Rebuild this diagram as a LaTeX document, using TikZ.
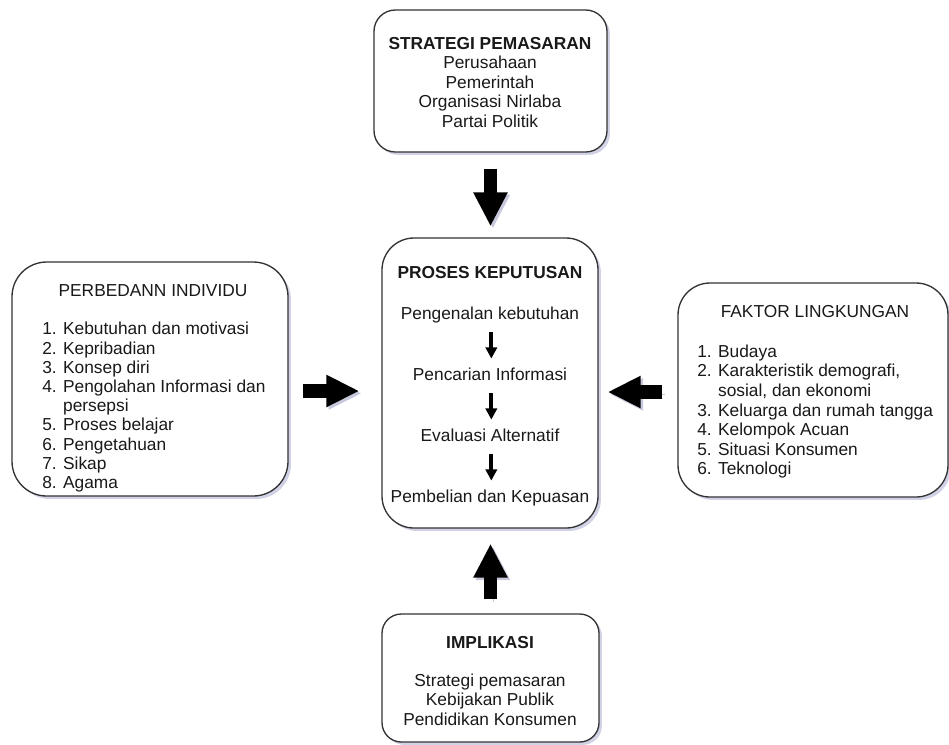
\documentclass[tikz,border=0pt]{standalone}
\usepackage{fontspec}
\setmainfont{Liberation Sans}
\usetikzlibrary{arrows.meta,shadows,calc}
\begin{document}
\begin{tikzpicture}[x=0.75pt,y=-0.75pt,
  box/.style={draw=black!80, line width=1pt, fill=white, inner sep=0pt,
    drop shadow={shadow xshift=2.2pt, shadow yshift=-2.2pt, opacity=0.45, fill=blue!30!gray!60}},
  txt/.style={font=\fontsize{13}{14.7}\selectfont, inner sep=0pt, text=black!90},
  btxt/.style={font=\fontsize{13}{14.7}\selectfont\bfseries, inner sep=0pt, text=black!90},
  steptxt/.style={txt, text height=9.5pt, text depth=2.7pt},
  arrowshadow/.style={preaction={draw=blue!25!gray, draw opacity=0.35, transform canvas={xshift=1.8pt,yshift=-1.8pt}}},
  bigv/.style={draw=black, line width=9.75pt, -{Triangle[width=24pt,length=25.5pt]}, arrowshadow},
  bigh/.style={draw=black, line width=10.5pt, -{Triangle[width=22.5pt,length=24.75pt]}, arrowshadow},
  smallarrow/.style={draw=black, line width=3pt, -{Triangle[width=8.5pt,length=8.5pt]}}]
\useasboundingbox (0,0) rectangle (949,744);

% boxes
\node[box, rounded corners=16pt, minimum width=174.75pt, minimum height=106.5pt] (strategi) at (490.5,81) {};
\node[box, rounded corners=24pt, minimum width=162pt, minimum height=217.5pt] (proses) at (490,383) {};
\node[box, rounded corners=26pt, minimum width=207pt, minimum height=175.5pt] (individu) at (150,379) {};
\node[box, rounded corners=24pt, minimum width=202.5pt, minimum height=160.5pt] (faktor) at (813,390) {};
\node[box, rounded corners=14.5pt, minimum width=162.75pt, minimum height=96pt] (implikasi) at (490.5,678) {};

% top box text
\node[txt, align=center, anchor=north] (strategitext) at (490,36.8)
  {\textbf{STRATEGI PEMASARAN}\\Perusahaan\\Pemerintah\\Organisasi Nirlaba\\Partai Politik};

% center box text
\node[btxt, anchor=base] (prosestitle) at (490,278.2) {PROSES KEPUTUSAN};
\node[steptxt, anchor=base] (p1) at (490,319.2) {Pengenalan kebutuhan};
\node[steptxt, anchor=base] (p2) at (490,380.2) {Pencarian Informasi};
\node[steptxt, anchor=base] (p3) at (490,441.2) {Evaluasi Alternatif};
\node[steptxt, anchor=base] (p4) at (490,502.2) {Pembelian dan Kepuasan};
\draw[smallarrow, shorten <=7pt, shorten >=6.5pt] ([xshift=1pt]p1.south) -- ([xshift=1pt]p2.north);
\draw[smallarrow, shorten <=7pt, shorten >=6.5pt] ([xshift=1pt]p2.south) -- ([xshift=1pt]p3.north);
\draw[smallarrow, shorten <=7pt, shorten >=6.5pt] ([xshift=1pt]p3.south) -- ([xshift=1pt]p4.north);

% left box text
\node[txt, anchor=base] (individutitle) at (153,296.2) {PERBEDANN INDIVIDU};
\node[txt, font=\fontsize{13}{14.4}\selectfont, align=left, anchor=north west] (individulist) at (42,322)
  {1. Kebutuhan dan motivasi\\2. Kepribadian\\3. Konsep diri\\4. Pengolahan Informasi dan\\\phantom{4. }persepsi\\5. Proses belajar\\6. Pengetahuan\\7. Sikap\\8. Agama};

% right box text
\node[txt, anchor=base] (faktortitle) at (815,317.2) {FAKTOR LINGKUNGAN};
\node[txt, align=left, anchor=north west] (faktorlist) at (697,344.5)
  {1. Budaya\\2. Karakteristik demografi,\\\phantom{2. }sosial, dan ekonomi\\3. Keluarga dan rumah tangga\\4. Kelompok Acuan\\5. Situasi Konsumen\\6. Teknologi};

% bottom box text
\node[btxt, anchor=base] (implikasititle) at (490,648.2) {IMPLIKASI};
\node[txt, align=center, anchor=north] (implikasitext) at (490,673.5)
  {Strategi pemasaran\\Kebijakan Publik\\Pendidikan Konsumen};

% big arrows
\draw[bigv, shorten <=12pt, shorten >=8.25pt] (strategi.south) -- (strategi.south |- proses.north);
\draw[bigv, shorten <=10.5pt, shorten >=11.25pt] (implikasi.north) -- (implikasi.north |- proses.south);
\draw[bigh, shorten <=10.5pt, shorten >=16.5pt] ([yshift=-9pt]individu.east) -- ([yshift=-9pt]individu.east -| proses.west);
\draw[bigh, shorten <=11.25pt, shorten >=6.75pt] ([yshift=-1.5pt]faktor.west) -- ([yshift=-1.5pt]faktor.west -| proses.east);
\end{tikzpicture}
\end{document}
